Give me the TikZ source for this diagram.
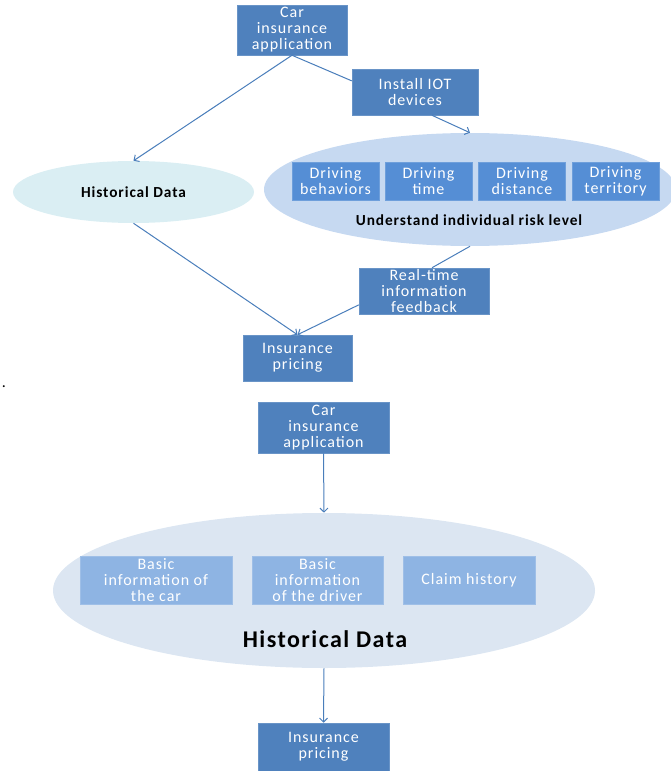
\documentclass[tikz,border=0pt]{standalone}
\usepackage{fontspec}
\setmainfont{Carlito}[LetterSpace=6]
\usetikzlibrary{shapes.geometric, arrows.meta}
\definecolor{boxblue}{HTML}{4F81BD}
\definecolor{midblue}{HTML}{558ED5}
\definecolor{paleblue}{HTML}{8EB4E3}
\definecolor{cyanfill}{HTML}{DAEEF3}
\definecolor{riskfill}{HTML}{C6D9F1}
\definecolor{histfill}{HTML}{DCE6F2}
\definecolor{linkblue}{HTML}{4A7EBB}

\begin{document}
\begin{tikzpicture}[x=0.75pt, y=-0.75pt,
    darkbox/.style ={rectangle, fill=boxblue, draw=boxblue!85!white, text=white, align=center,
                     inner sep=0pt, font=\fontsize{12}{12}\selectfont},
    factor/.style ={darkbox, fill=midblue, draw=midblue!85!white,
                    minimum width=65.25pt, minimum height=28.5pt},
    basic/.style ={darkbox, fill=paleblue, draw=paleblue!85!white,
                   minimum height=36pt},
    cloud/.style ={ellipse, inner sep=0pt, font=\fontsize{11.5}{12}\selectfont\bfseries},
    link/.style ={draw=linkblue, line width=0.75pt},
    >={Straight Barb[length=3pt, width=6pt]}]
   \useasboundingbox (0,0) rectangle (671,771);

   % top picture
   \node[darkbox, minimum width=82.5pt, minimum height=37.5pt] (car1) at (292,30) {Car\\insurance\\application};
   \node[darkbox, minimum width=94.5pt, minimum height=34.5pt] (iot) at (415,92) {Install IOT\\devices};
   \node[cloud, fill=cyanfill, minimum width=180.75pt, minimum height=46.5pt] (hist1) at (133.5,192) {Historical Data};
   \node[cloud, fill=riskfill, minimum width=309pt, minimum height=84.75pt] (risk) at (470,189.5) {};
   \node[factor] (beh)  at (335.5,181) {Driving\\behaviors};
   \node[factor] (time) at (428.5,181) {Driving\\time};
   \node[factor] (dist) at (522,181)   {Driving\\distance};
   \node[factor] (terr) at (615.5,181) {Driving\\territory};
   \node[font=\fontsize{11.5}{12}\selectfont\bfseries] (risklbl) at (469,220) {Understand individual risk level};
   \node[darkbox, minimum width=97.5pt, minimum height=34.5pt] (feed) at (424,291) {Real-time\\information\\feedback};
   \node[darkbox, minimum width=81.75pt, minimum height=34.5pt] (price1) at (297.5,358) {Insurance\\pricing};
   \node[font=\fontsize{12}{12}\selectfont] (dot) at (4,387) {.};

   \draw[link] (car1.south) to (iot.170);
   \draw[link, ->] (iot.-54) to (risk.north);
   \draw[link, ->] (car1.south) to (hist1.north);
   \draw[link, ->] (hist1.south) to (price1.north);
   \draw[link] (risk.south) to (feed.71);
   \draw[link, ->] (feed.192) to (price1.north);

   % bottom picture
   \node[darkbox, minimum width=98.25pt, minimum height=38.25pt] (car2) at (323.5,427.5) {Car\\insurance\\application};
   \node[cloud, fill=histfill, minimum width=406.5pt, minimum height=116.25pt] (hist2) at (324,590.5) {};
   \node[basic, minimum width=114pt]   (basiccar) at (156,580)   {Basic\\information of\\the car};
   \node[basic, minimum width=98.25pt] (basicdrv) at (317.5,580) {Basic\\information\\of the driver};
   \node[basic, minimum width=99pt]    (claim)    at (469,580)   {Claim history};
   \node[font=\fontsize{18}{18}\selectfont\bfseries] (histlbl) at (325,639) {Historical Data};
   \node[darkbox, minimum width=98.25pt, minimum height=36pt] (price2) at (323.5,747) {Insurance\\pricing};

   \draw[link, ->] (car2.south) to (hist2.north);
   \draw[link, ->] (hist2.south) to (price2.north);
\end{tikzpicture}
\end{document}
